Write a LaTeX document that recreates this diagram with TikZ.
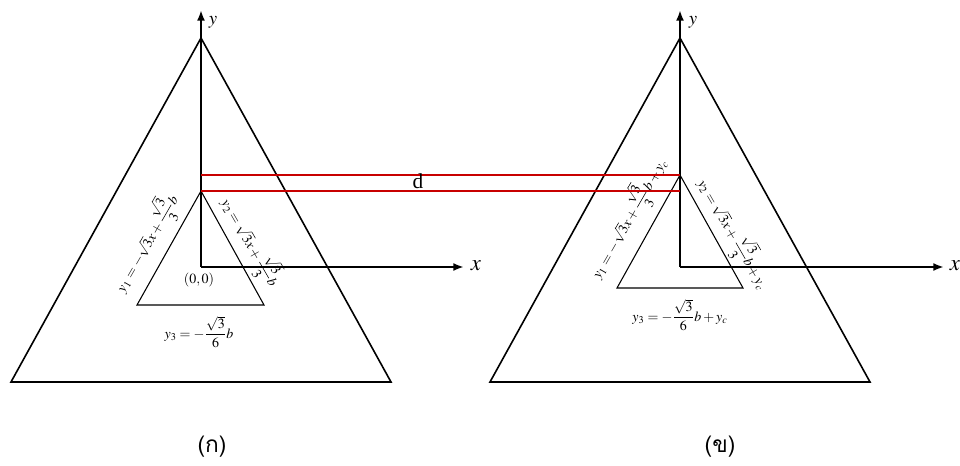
\documentclass[tikz,border=0pt]{standalone}
\usepackage{amsmath}
\usepackage{mathptmx}
\usepackage{fontspec}
\setmainfont{Liberation Serif}
\newfontfamily\thaifont[Script=Thai]{Loma}
\usetikzlibrary{arrows.meta}
\definecolor{redline}{RGB}{200,0,0}
\tikzset{
  axis/.style={line width=2pt,-{Latex[length=8pt,width=6pt]}},
  bigtri/.style={line width=1.2pt,line join=miter},
  smalltri/.style={line width=0.8pt},
  dline/.style={redline,line width=1.8pt},
  eq/.style={font=\fontsize{10.5}{12}\selectfont,inner sep=0pt},
  ylab/.style={font=\fontsize{14}{16}\selectfont,inner sep=0pt},
  xlab/.style={font=\fontsize{17}{19}\selectfont,inner sep=0pt},
  captlabel/.style={font=\thaifont\fontsize{17}{19}\selectfont,inner sep=0pt}
}
\begin{document}
\begin{tikzpicture}[x=0.75pt,y=-0.75pt]
\useasboundingbox (0,0) rectangle (960,466);
% ---------- left panel ----------
\coordinate (LA) at (201,38);
\coordinate (LB1) at (11,382);
\coordinate (LB2) at (391,382);
\draw[bigtri] (LA) -- (LB1) -- (LB2) -- cycle;
\coordinate (LO) at (201,267);
\coordinate (LYt) at (201,10);
\coordinate (LXt) at (464,267);
\draw[axis] (LO) -- (LYt);
\draw[axis] (LO) -- (LXt);
\node[ylab] (ly) at (213,22) {$y$};
\node[xlab] (lx) at (476,266) {$x$};
\coordinate (La) at (201,191);
\coordinate (Lb1) at (137,305);
\coordinate (Lb2) at (264,305);
\draw[smalltri] (La) -- (Lb1) -- (Lb2) -- cycle;
\node[eq] (l00) at (199,280) {$(0,0)$};
\node[eq,rotate=60] (ly1) at (146,243) {$y_1=-\sqrt{3}x+\dfrac{\sqrt{3}}{3}b$};
\node[eq,rotate=-60] (ly2) at (251,242) {$y_2=\sqrt{3}x+\dfrac{\sqrt{3}}{3}b$};
\node[eq] (ly3) at (199,332) {$y_3=-\dfrac{\sqrt{3}}{6}b$};
\node[captlabel] (ka) at (212,447) {(ก)};
% ---------- right panel ----------
\coordinate (RA) at (680,38);
\coordinate (RB1) at (490,382);
\coordinate (RB2) at (870,382);
\draw[bigtri] (RA) -- (RB1) -- (RB2) -- cycle;
\coordinate (RO) at (680,267);
\coordinate (RYt) at (680,10);
\coordinate (RXt) at (944,267);
\draw[axis] (RO) -- (RYt);
\draw[axis] (RO) -- (RXt);
\node[ylab] (ry) at (693,22) {$y$};
\node[xlab] (rx) at (955,266) {$x$};
\coordinate (Ra) at (680,175);
\coordinate (Rb1) at (617,288);
\coordinate (Rb2) at (743,288);
\draw[smalltri] (Ra) -- (Rb1) -- (Rb2) -- cycle;
\node[eq,rotate=60] (ry1) at (628,218) {$y_1=-\sqrt{3}x+\dfrac{\sqrt{3}}{3}b+y_c$};
\node[eq,rotate=-60] (ry2) at (734,234) {$y_2=\sqrt{3}x+\dfrac{\sqrt{3}}{3}b+y_c$};
\node[eq] (ry3) at (680,315) {$y_3=-\dfrac{\sqrt{3}}{6}b+y_c$};
\node[captlabel] (kh) at (720,447) {(ข)};
% ---------- distance d ----------
\coordinate (d1l) at (201,175);
\coordinate (d1r) at (680,175);
\coordinate (d2l) at (201,191);
\coordinate (d2r) at (680,191);
\draw[dline] (d1l) -- (d1r);
\draw[dline] (d2l) -- (d2r);
\node[inner sep=0pt,font=\fontsize{16}{18}\selectfont] (dl) at (418,181) {d};
\end{tikzpicture}
\end{document}
